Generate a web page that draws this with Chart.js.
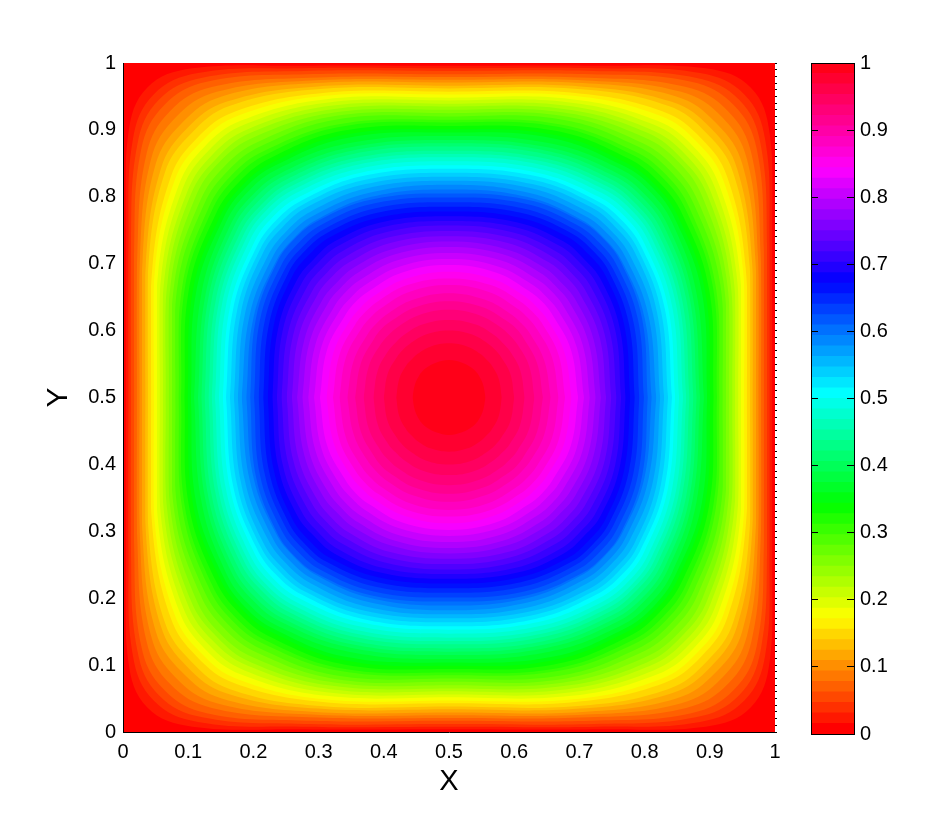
<!DOCTYPE html>
<html>
<head>
<meta charset="utf-8">
<title>Contour</title>
<script src="https://cdn.jsdelivr.net/npm/chart.js@4"></script>
<style>
  html, body { margin: 0; padding: 0; background: #fff; }
  canvas { position: absolute; left: 0; top: 0; }
</style>
</head>
<body>
<canvas id="field" width="948" height="822"></canvas>
<canvas id="colorbar" width="948" height="822"></canvas>
<script>
// tick labels
const axisTicks = [0, 0.1, 0.2, 0.3, 0.4, 0.5, 0.6, 0.7, 0.8, 0.9, 1];

// centre of the closed contours
const centerX = 0.5;
const centerY = 0.5;

// contours from the innermost one to the outermost, one entry per colour band edge
// half width on the centre line
const axisHalf = [.056,.081,.100,.116,.131,.144,.156,.168,.178,.188,.198,.207,.216,.225,.233,.241,.249,.257,.264,.271,.278,.285,.292,.299,.305,.311,.318,.324,.330,.336,.342,.347,.353,.359,.364,.369,.375,.380,.385,.391,.396,.401,.406,.411,.415,.420,.425,.430,.435,.439,.444,.448,.453,.457,.462,.466,.471,.475,.479,.483,.488,.492,.496];
// half width at half the diagonal height
const lowHalf = [.052,.076,.094,.109,.123,.135,.146,.158,.168,.177,.187,.196,.205,.214,.222,.231,.239,.247,.255,.262,.269,.276,.283,.290,.296,.300,.306,.313,.319,.325,.331,.336,.342,.348,.353,.358,.364,.369,.374,.380,.388,.393,.399,.405,.409,.416,.421,.426,.431,.436,.441,.446,.451,.455,.461,.465,.470,.474,.478,.483,.488,.492,.496];
// half width at 0.85 of the diagonal height
const highHalf = [.045,.065,.080,.093,.105,.115,.125,.135,.144,.152,.160,.169,.177,.186,.194,.202,.210,.218,.226,.233,.240,.246,.252,.258,.264,.266,.272,.278,.285,.290,.295,.300,.306,.311,.316,.321,.326,.331,.336,.342,.347,.352,.358,.364,.369,.376,.382,.389,.396,.401,.408,.414,.421,.427,.436,.442,.450,.457,.464,.472,.478,.485,.492];
// offset of the contour on the diagonal
const diagHalf = [.040,.057,.071,.082,.093,.103,.111,.120,.128,.135,.143,.150,.158,.165,.172,.180,.187,.194,.201,.207,.214,.220,.225,.231,.237,.238,.244,.249,.255,.260,.265,.270,.275,.280,.284,.288,.293,.298,.302,.308,.313,.317,.322,.328,.333,.339,.345,.352,.357,.363,.369,.375,.381,.387,.395,.402,.410,.419,.428,.437,.445,.453,.463];

const bandCount = 64;

function bandColor(k) {
  return 'hsl(' + (k * 360 / bandCount) + ', 100%, 50%)';
}

// one half of a closed contour, left to right; sign 1 is the upper half
function contourArc(i, sign) {
  const a = axisHalf[i], l = lowHalf[i], h = highHalf[i], d = diagHalf[i];
  const quarter = [[a, 0], [l, d * 0.5], [h, d * 0.85], [d, d], [d * 0.85, h], [d * 0.5, l]];
  const left = quarter.map(p => ({ x: centerX - p[0], y: centerY + sign * p[1] }));
  const right = quarter.slice().reverse().map(p => ({ x: centerX + p[0], y: centerY + sign * p[1] }));
  return left.concat([{ x: centerX, y: centerY + sign * a }], right);
}

const fieldDatasets = [];
axisHalf.forEach((a, i) => {
  fieldDatasets.push({
    data: contourArc(i, 1),
    fill: '+1',
    backgroundColor: bandColor(bandCount - 1 - i),
    borderWidth: 0,
    pointRadius: 0,
    tension: 0.4
  });
  fieldDatasets.push({
    data: contourArc(i, -1),
    fill: false,
    borderWidth: 0,
    pointRadius: 0,
    tension: 0.4
  });
});
// lowest band fills the whole square
fieldDatasets.push({
  data: [{ x: 0, y: 1 }, { x: 1, y: 1 }],
  fill: '+1',
  backgroundColor: bandColor(0),
  borderWidth: 0,
  pointRadius: 0
});
fieldDatasets.push({
  data: [{ x: 0, y: 0 }, { x: 1, y: 0 }],
  fill: false,
  borderWidth: 0,
  pointRadius: 0
});

const tickFont = { family: '"Liberation Sans", Arial, sans-serif', size: 20 };
const titleFontX = { family: '"Liberation Sans", Arial, sans-serif', size: 29 };
const titleFontY = { family: '"Liberation Sans", Arial, sans-serif', size: 30 };

function setTicks(scale) {
  scale.ticks = axisTicks.map(v => ({ value: v }));
}

const tickText = v => String(v);

const fieldChart = new Chart(document.getElementById('field').getContext('2d'), {
  type: 'line',
  data: { datasets: fieldDatasets },
  options: {
    responsive: false,
    animation: false,
    events: [],
    layout: { padding: { top: 63, right: 171, bottom: 0, left: 0 } },
    plugins: { legend: { display: false }, tooltip: { enabled: false } },
    scales: {
      x: {
        type: 'linear',
        min: 0,
        max: 1,
        afterBuildTicks: setTicks,
        afterFit: s => { s.height = 90; },
        grid: { display: false, drawTicks: false },
        border: { display: true, color: '#000', width: 1, z: 2 },
        ticks: { color: '#000', font: tickFont, padding: 8, maxRotation: 0, autoSkip: false, callback: tickText },
        title: { display: true, text: 'X', color: '#000', font: titleFontX, padding: { top: 0, bottom: 23 } }
      },
      y: {
        min: 0,
        max: 1,
        afterBuildTicks: setTicks,
        afterFit: s => { s.width = 123; },
        grid: { display: false, drawTicks: false },
        border: { display: true, color: '#000', width: 1, z: 2 },
        ticks: { color: '#000', font: tickFont, padding: 7, autoSkip: false, callback: tickText },
        title: { display: true, text: 'Y', color: '#000', font: titleFontY, padding: { top: 41, bottom: 0 } }
      },
      edge: {
        position: 'right',
        min: 0,
        max: 1,
        afterFit: s => { s.width = 2; },
        border: { display: false },
        grid: { drawOnChartArea: false, drawTicks: true, tickLength: 2, tickColor: '#000', z: 2 },
        ticks: { display: false, stepSize: 0.01, autoSkip: false }
      }
    }
  }
});

// colour bar: one stacked block per band
const bandHeights = new Array(bandCount).fill(1 / bandCount);
const barDatasets = bandHeights.map((h, k) => ({
  data: [h],
  backgroundColor: bandColor(k),
  borderWidth: 0,
  inflateAmount: 0.5
}));

const barScale = {
  stacked: true,
  min: 0,
  max: 1,
  afterBuildTicks: setTicks,
  border: { display: true, color: '#000', width: 1, z: 2 },
  grid: { drawOnChartArea: false, drawTicks: true, tickLength: -7, tickColor: '#000', z: 2 }
};

const colorbarChart = new Chart(document.getElementById('colorbar').getContext('2d'), {
  type: 'bar',
  data: { labels: ['band'], datasets: barDatasets },
  options: {
    responsive: false,
    animation: false,
    events: [],
    barPercentage: 1,
    categoryPercentage: 1,
    layout: { padding: { top: 63, right: 0, bottom: 88, left: 800 } },
    plugins: { legend: { display: false }, tooltip: { enabled: false } },
    scales: {
      x: {
        stacked: true,
        position: 'bottom',
        afterFit: s => { s.height = 0; },
        grid: { display: false },
        border: { display: true, color: '#000', width: 1, z: 2 },
        ticks: { display: false }
      },
      top: {
        type: 'category',
        position: 'top',
        afterFit: s => { s.height = 0; },
        grid: { display: false },
        border: { display: true, color: '#000', width: 1, z: 2 },
        ticks: { display: false }
      },
      y: Object.assign({}, barScale, {
        position: 'left',
        afterFit: s => { s.width = 11; },
        ticks: { display: false }
      }),
      side: Object.assign({}, barScale, {
        stacked: false,
        position: 'right',
        afterFit: s => { s.width = 94; },
        ticks: { color: '#000', font: tickFont, padding: 13, autoSkip: false, callback: tickText }
      })
    }
  }
});
</script>
</body>
</html>
